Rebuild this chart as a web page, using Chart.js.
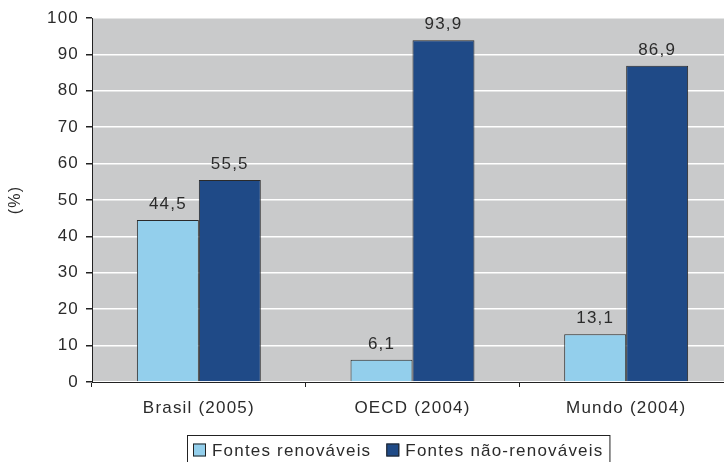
<!DOCTYPE html>
<html>
<head>
<meta charset="utf-8">
<script src="https://cdn.jsdelivr.net/npm/chart.js@4/dist/chart.umd.min.js"></script>
<style>
  html, body { margin: 0; padding: 0; background: #fff; overflow: hidden; }
  #wrap { width: 724px; height: 462px; overflow: hidden; position: relative; }
  canvas { display: block; }
</style>
</head>
<body>
<div id="wrap"><canvas id="chart" width="734" height="462"></canvas></div>
<script>
// Participação das fontes de energia (%)
const categories = ['Brasil (2005)', 'OECD (2004)', 'Mundo (2004)'];
const seriesNames = ['Fontes renováveis', 'Fontes não-renováveis'];
const renovaveis = [44.5, 6.1, 13.1];
const naoRenovaveis = [55.5, 93.9, 86.9];
const yMin = 0;
const yMax = 100;
const yStep = 10;
const yTitle = '(%)';

const FONT = '"Liberation Sans", Arial, Helvetica, sans-serif';
const TEXT = '#2b2b2b';
const SPACING = '1.2px';

// Wide tracking on all canvas text
const tracking = {
  id: 'tracking',
  beforeUpdate(chart) { chart.ctx.letterSpacing = SPACING; },
  beforeLayout(chart) { chart.ctx.letterSpacing = SPACING; },
  beforeDraw(chart) { chart.ctx.letterSpacing = SPACING; }
};

// Grey plot background
const plotBackground = {
  id: 'plotBackground',
  beforeDraw(chart) {
    const { ctx, chartArea: a } = chart;
    ctx.save();
    ctx.fillStyle = '#c9cacb';
    ctx.fillRect(a.left, a.top, a.right - a.left, a.bottom - a.top);
    ctx.restore();
  }
};

// Value labels above each bar
const valueLabels = {
  id: 'valueLabels',
  afterDatasetsDraw(chart) {
    const ctx = chart.ctx;
    ctx.save();
    ctx.letterSpacing = SPACING;
    ctx.font = '17px ' + FONT;
    ctx.fillStyle = TEXT;
    ctx.textAlign = 'center';
    ctx.textBaseline = 'alphabetic';
    chart.data.datasets.forEach((ds, i) => {
      chart.getDatasetMeta(i).data.forEach((bar, j) => {
        const txt = ds.data[j].toFixed(1).replace('.', ',');
        ctx.fillText(txt, bar.x, bar.y - 11);
      });
    });
    ctx.restore();
  }
};

// Boxed legend below the axis
const boxedLegend = {
  id: 'boxedLegend',
  afterDraw(chart) {
    const ctx = chart.ctx;
    ctx.save();
    ctx.letterSpacing = SPACING;
    ctx.font = '17px ' + FONT;
    const sw = 13, gapText = 6, gapItem = 15, pad = 6;
    const items = chart.data.datasets.map(d => ({
      text: d.label, fill: d.backgroundColor, w: ctx.measureText(d.label).width
    }));
    let total = pad * 2 + gapItem * (items.length - 1);
    items.forEach(it => { total += sw + gapText + it.w; });
    const cx = 398, top = 435, h = 30;
    let x = Math.round(cx - total / 2);
    ctx.strokeStyle = '#222';
    ctx.lineWidth = 1;
    ctx.strokeRect(x + 0.5, top + 0.5, total, h);
    x += pad;
    const midY = top + 15;
    ctx.textBaseline = 'middle';
    ctx.textAlign = 'left';
    items.forEach(it => {
      ctx.fillStyle = it.fill;
      ctx.fillRect(x, midY - sw / 2, sw, sw);
      ctx.strokeStyle = '#222';
      ctx.strokeRect(x + 0.5, midY - sw / 2 + 0.5, sw - 1, sw - 1);
      ctx.fillStyle = TEXT;
      ctx.fillText(it.text, x + sw + gapText, midY + 1);
      x += sw + gapText + it.w + gapItem;
    });
    ctx.restore();
  }
};

new Chart(document.getElementById('chart'), {
  type: 'bar',
  data: {
    labels: categories,
    datasets: [
      {
        label: seriesNames[0],
        data: renovaveis,
        backgroundColor: '#93cfec',
        borderColor: '#2a2a2a',
        borderWidth: 1
      },
      {
        label: seriesNames[1],
        data: naoRenovaveis,
        backgroundColor: '#1f4a87',
        borderColor: '#2a2a2a',
        borderWidth: 1
      }
    ]
  },
  options: {
    responsive: false,
    animation: false,
    events: [],
    datasets: {
      bar: { barPercentage: 1, categoryPercentage: 0.58 }
    },
    layout: { padding: { top: 18, left: 0, right: 1, bottom: 0 } },
    plugins: {
      legend: { display: false },
      tooltip: { enabled: false }
    },
    scales: {
      x: {
        afterFit(scale) { scale.height = 80; },
        grid: {
          offset: true,
          drawOnChartArea: false,
          drawTicks: true,
          tickLength: 5,
          tickColor: '#222'
        },
        border: { color: '#222', width: 1 },
        ticks: {
          color: TEXT,
          padding: 11,
          font: { family: FONT, size: 17 }
        }
      },
      y: {
        min: yMin,
        max: yMax,
        afterFit(scale) { scale.width = 92; },
        grid: {
          color: '#ffffff',
          lineWidth: 1.5,
          tickColor: '#222',
          tickLength: 6
        },
        border: { color: '#222', width: 1 },
        ticks: {
          stepSize: yStep,
          color: TEXT,
          padding: 7,
          font: { family: FONT, size: 17 }
        },
        title: {
          display: true,
          text: yTitle,
          color: TEXT,
          padding: { top: 6, bottom: 0 },
          font: { family: FONT, size: 16 }
        }
      }
    }
  },
  plugins: [tracking, plotBackground, valueLabels, boxedLegend]
});
</script>
</body>
</html>
